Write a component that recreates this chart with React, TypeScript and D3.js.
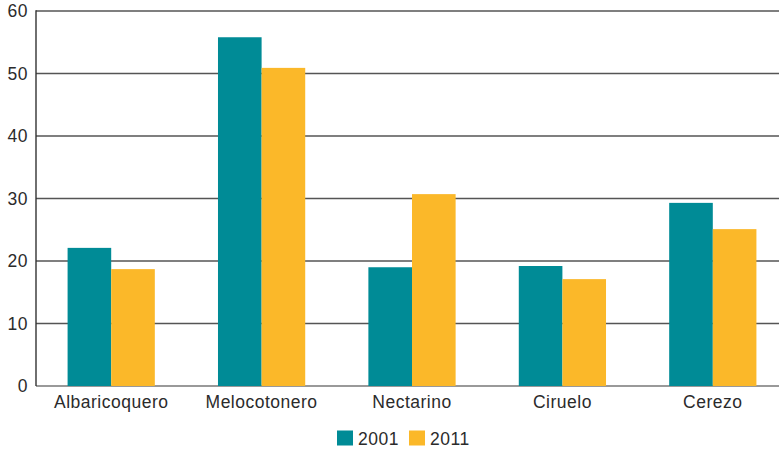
import React from "react";
import * as d3 from "d3";

const categories = ["Albaricoquero", "Melocotonero", "Nectarino", "Ciruelo", "Cerezo"];
const series = ["2001", "2011"];
const values2001 = [22.1, 55.8, 19.0, 19.2, 29.3];
const values2011 = [18.7, 50.9, 30.7, 17.1, 25.1];
const yTicks = [0, 10, 20, 30, 40, 50, 60];
const colors = ["#008B96", "#FBB829"];

const W = 779;
const H = 450;
const left = 36;
const top = 11;
const bottom = 386;

export default function App() {
  const x = d3.scaleBand<string>().domain(categories).range([left, 788]).paddingInner(0.42).paddingOuter(0.21);
  const x1 = d3.scaleBand<string>().domain(series).range([0, x.bandwidth()]);
  const y = d3.scaleLinear().domain([0, 60]).range([bottom, top]);
  const data = [values2001, values2011];
  const font = "'Liberation Sans', Arial, Helvetica, sans-serif";
  const fs = 17.5;
  const ls = 0.5;

  return (
    <svg width={W} height={H} style={{ position: "absolute", left: 0, top: 0, display: "block" }} fontFamily={font}>
      <rect width={W} height={H} fill="#fff" />
      {yTicks.map((t) => (
        <g key={t}>
          <line x1={left} x2={W} y1={y(t)} y2={y(t)} stroke={t === 0 ? "#777" : "#555"} strokeWidth={1.4} />
          <text x={28} y={y(t)} dy="0.36em" textAnchor="end" fontSize={fs} letterSpacing={ls} fill="#2b2b2b">{t}</text>
        </g>
      ))}
      {categories.map((c, i) => (
        <g key={c}>
          {series.map((s, j) => (
            <rect
              key={s}
              x={(x(c) as number) + (x1(s) as number)}
              y={y(data[j][i])}
              width={x1.bandwidth()}
              height={y(0) - y(data[j][i])}
              fill={colors[j]}
            />
          ))}
          <text x={(x(c) as number) + x.bandwidth() / 2} y={407.5} textAnchor="middle" fontSize={fs} letterSpacing={ls} fill="#2b2b2b">{c}</text>
        </g>
      ))}
      <line x1={left} x2={left} y1={top - 0.7} y2={bottom} stroke="#333" strokeWidth={1.4} />
      {series.map((s, j) => {
        const lx = j === 0 ? 337 : 409;
        return (
          <g key={s}>
            <rect x={lx} y={430.5} width={16} height={15} fill={colors[j]} />
            <text x={lx + 21} y={444.5} fontSize={fs} letterSpacing={ls} fill="#2b2b2b">{s}</text>
          </g>
        );
      })}
    </svg>
  );
}
